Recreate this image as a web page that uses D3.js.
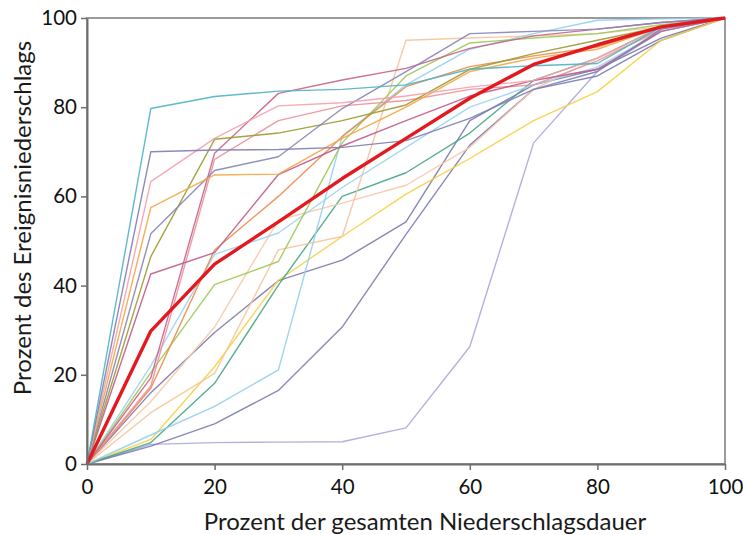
<!DOCTYPE html>
<html>
<head>
<meta charset="utf-8">
<script src="https://cdn.jsdelivr.net/npm/d3@7"></script>
<style>
  html, body { margin: 0; padding: 0; background: #fff; }
  svg { display: block; font-family: Lato, "Open Sans", sans-serif; }
</style>
</head>
<body>
<svg id="chart" width="743" height="535"></svg>
<script>
// Percent of total rain duration (x) for every event curve
const durationPct = [0, 10, 20, 30, 40, 50, 60, 70, 80, 90, 100];
const xTicks = [0, 20, 40, 60, 80, 100];
const yTicks = [0, 20, 40, 60, 80, 100];

// Cumulative share of event precipitation for the individual events
const teal        = [0, 79.7, 82.4, 83.6, 84, 85, 88.5, 89.3, 89.8, 98, 100];
const navyFlat    = [0, 70, 70.4, 70.5, 71, 72.5, 77.5, 84, 88, 97.5, 100];
const lightPink   = [0, 63.3, 73, 80.3, 81, 82.5, 84.5, 86, 91, 98, 100];
const orange      = [0, 57.5, 64.8, 65, 73, 80, 88, 91, 93, 98, 100];
const navy2       = [0, 51.6, 65.8, 68.9, 79.7, 88, 96.5, 97, 97.5, 99, 100];
const olive       = [0, 46.5, 72.8, 74.2, 77, 80.5, 88.5, 92, 95, 98, 100];
const plum        = [0, 42.6, 47.4, 64.9, 71.3, 77, 82.5, 86, 88.5, 97, 100];
const rose        = [0, 19.3, 69.7, 83.1, 86.1, 88.7, 93.2, 96, 97.5, 99, 100];
const pink2       = [0, 17.5, 68.3, 77, 80.3, 81.5, 84, 85, 90.4, 97.5, 100];
const lightBlue1  = [0, 22, 47, 51.8, 62, 71, 80, 85, 89, 97, 100];
const lightGreen  = [0, 20.5, 40.2, 45.4, 72, 87, 94.4, 95.5, 96.5, 98.5, 100];
const orangeBrown = [0, 17, 48, 60, 73.4, 84.6, 89.1, 91.5, 93.5, 98, 100];
const peach1      = [0, 11.5, 20.3, 48, 51, 95, 95.5, 96, 96.5, 98, 100];
const peach2      = [0, 14, 30.7, 54.7, 58.5, 62.5, 71, 84, 91, 97, 100];
const yellow      = [0, 5.5, 21.8, 41.2, 51, 60.5, 68.5, 77, 83.5, 95, 100];
const green       = [0, 4.8, 18.1, 40.1, 60, 65.3, 74.2, 86, 91, 98, 100];
const lavender    = [0, 4.4, 4.8, 4.9, 5, 8.1, 26.3, 72, 88, 97, 100];
const navy3       = [0, 16, 29.5, 41.1, 45.7, 54.3, 77, 85, 88.5, 95.5, 100];
const navy4       = [0, 4, 9, 16.5, 30.7, 51.5, 71.5, 84, 87, 95, 100];
const lightBlue2  = [0, 6.5, 12.9, 21.1, 73.5, 85, 93, 96.5, 99.5, 99.8, 100];

// Mean curve over all events
const mean        = [0, 29.8, 44.8, 54.3, 64, 73, 82, 89.6, 94, 98, 100];

const events = [
  { values: lavender,    color: "#a9a9de" },
  { values: navy4,       color: "#7c7cb0" },
  { values: navy3,       color: "#7a7aac" },
  { values: yellow,      color: "#f8cf40" },
  { values: green,       color: "#45a585" },
  { values: peach2,      color: "#f7c9a6" },
  { values: peach1,      color: "#f6c49c" },
  { values: lightBlue2,  color: "#93cff0" },
  { values: lightBlue1,  color: "#9fd3f0" },
  { values: lightGreen,  color: "#9cc955" },
  { values: orangeBrown, color: "#ec8a48" },
  { values: pink2,       color: "#ee8f9a" },
  { values: rose,        color: "#c8628a" },
  { values: plum,        color: "#c05c86" },
  { values: olive,       color: "#9a9a30" },
  { values: navy2,       color: "#8585b8" },
  { values: orange,      color: "#f5a545" },
  { values: lightPink,   color: "#f2a2aa" },
  { values: navyFlat,    color: "#7e7eb2" },
  { values: teal,        color: "#4cb3c4" }
];

const svg = d3.select("#chart");
const margin = { left: 87, right: 18, top: 18, bottom: 71 };
const width = 743 - margin.left - margin.right;
const height = 535 - margin.top - margin.bottom;

const x = d3.scaleLinear().domain([0, 100]).range([margin.left, margin.left + width]);
const y = d3.scaleLinear().domain([0, 100]).range([margin.top + height, margin.top]);

// Plot area frame (top and right)
svg.append("rect")
  .attr("x", x(0)).attr("y", y(100))
  .attr("width", x(100) - x(0)).attr("height", y(0) - y(100))
  .attr("fill", "none").attr("stroke", "#9a9a9a").attr("stroke-width", 2);

const line = d3.line()
  .x((d, i) => x(durationPct[i]))
  .y(d => y(d));

const g = svg.append("g");
g.selectAll("path.event")
  .data(events)
  .join("path")
  .attr("class", "event")
  .attr("d", d => line(d.values))
  .attr("fill", "none")
  .attr("stroke", d => d.color)
  .attr("stroke-width", 1.4)
  .attr("stroke-opacity", 0.9)
  .attr("stroke-linejoin", "round");

g.append("path")
  .attr("d", line(mean))
  .attr("fill", "none")
  .attr("stroke", "#e3191f")
  .attr("stroke-width", 3.4)
  .attr("stroke-linejoin", "round");

// Axes
const xAxis = d3.axisBottom(x).tickValues(xTicks).tickSize(6).tickSizeOuter(0).tickPadding(9);
const yAxis = d3.axisLeft(y).tickValues(yTicks).tickSize(6).tickSizeOuter(0).tickPadding(4);

const gx = svg.append("g").attr("transform", `translate(0,${y(0)})`).call(xAxis);
const gy = svg.append("g").attr("transform", `translate(${x(0)},0)`).call(yAxis);

[gx, gy].forEach(a => {
  a.select(".domain").attr("stroke", "#6e6e6e").attr("stroke-width", 2);
  a.selectAll(".tick line").attr("stroke", "#6e6e6e").attr("stroke-width", 1.5);
  a.selectAll(".tick text")
    .attr("fill", "#111")
    .style("font-size", "20.5px")
    .style("font-family", "Lato, 'Open Sans', sans-serif");
});

// Axis titles
svg.append("text")
  .attr("x", 425).attr("y", 530)
  .attr("text-anchor", "middle")
  .attr("fill", "#1a1a1a")
  .style("font-size", "24px")
  .text("Prozent der gesamten Niederschlagsdauer");

svg.append("text")
  .attr("transform", "translate(31,218) rotate(-90)")
  .attr("text-anchor", "middle")
  .attr("fill", "#1a1a1a")
  .style("font-size", "24px")
  .text("Prozent des Ereignisniederschlags");
</script>
</body>
</html>
